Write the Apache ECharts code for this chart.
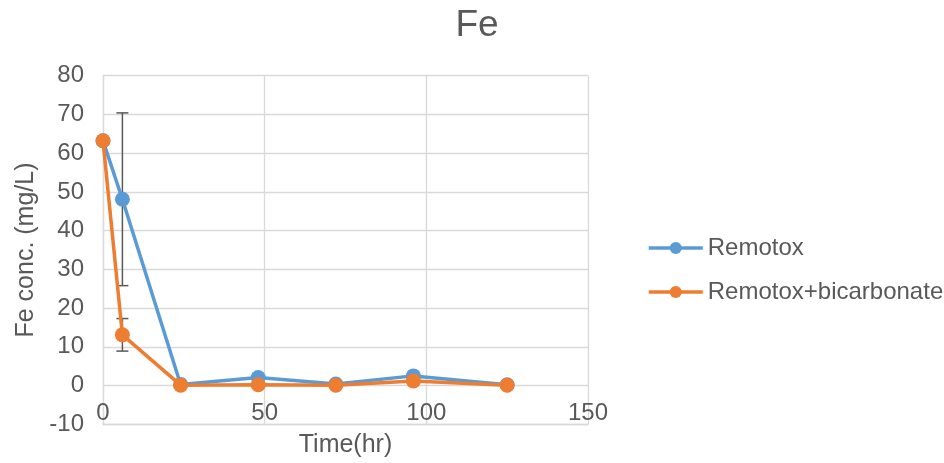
<!DOCTYPE html>
<html>
<head>
<meta charset="utf-8">
<script src="https://cdn.jsdelivr.net/npm/echarts@6/dist/echarts.min.js"></script>
<style>html,body{margin:0;padding:0;background:#fff;}#c{width:944px;height:463px;}</style>
</head>
<body>
<div id="c"></div>
<script>
const time = [0, 6, 24, 48, 72, 96, 125];
const remotox = [63.2, 48.1, 0.3, 2.1, 0.4, 2.5, 0.2];
const remotoxBicarb = [63.2, 13.1, 0.1, 0.2, 0.1, 1.2, 0.1];
const remotoxErr = [0, 22.3, 0, 0, 0, 0, 0];
const remotoxBicarbErr = [0, 4.2, 0, 0, 0, 0, 0];
const seriesNames = ['Remotox', 'Remotox+bicarbonate'];
const colors = ['#5B9BD5', '#ED7D31'];
const xTicks = { min: 0, max: 150, interval: 50 };
const yTicks = { min: -10, max: 80, interval: 10 };

const FONT = '"Liberation Sans", Arial, sans-serif';
const TXT = '#595959';
const GRID = '#d9d9d9';

function pairs(xs, ys) { return xs.map((x, i) => [x, ys[i]]); }
function errData(xs, ys, es) {
  const out = [];
  xs.forEach((x, i) => { if (es[i] > 0) out.push([x, ys[i] - es[i], ys[i] + es[i]]); });
  return out;
}
function errRender(params, api) {
  const x = api.value(0), lo = api.value(1), hi = api.value(2);
  const pLo = api.coord([x, lo]);
  const pHi = api.coord([x, hi]);
  const cap = 6;
  const style = { stroke: TXT, lineWidth: 1.5 };
  return {
    type: 'group',
    children: [
      { type: 'line', shape: { x1: pLo[0], y1: pLo[1], x2: pHi[0], y2: pHi[1] }, style },
      { type: 'line', shape: { x1: pHi[0] - cap, y1: pHi[1], x2: pHi[0] + cap, y2: pHi[1] }, style },
      { type: 'line', shape: { x1: pLo[0] - cap, y1: pLo[1], x2: pLo[0] + cap, y2: pLo[1] }, style }
    ]
  };
}

const chart = echarts.init(document.getElementById('c'), null, { renderer: 'canvas' });
chart.setOption({
  animation: false,
  backgroundColor: '#fff',
  textStyle: { fontFamily: FONT },
  title: {
    text: 'Fe', left: 472, top: 2, textAlign: 'center',
    textStyle: { fontFamily: FONT, fontSize: 37, fontWeight: 'normal', color: TXT }
  },
  legend: {
    data: seriesNames, orient: 'vertical', left: 647, top: 236, padding: 0,
    itemWidth: 54, itemHeight: 15, itemGap: 20,
    lineStyle: { width: 3.5 },
    textStyle: { fontFamily: FONT, fontSize: 24, color: TXT }
  },
  grid: { left: 103, right: 356, top: 75.7, bottom: 38.7, containLabel: false, outerBoundsMode: 'none' },
  xAxis: {
    type: 'value', min: xTicks.min, max: xTicks.max, interval: xTicks.interval,
    name: 'Time(hr)', nameLocation: 'middle', nameGap: 8,
    nameTextStyle: { fontFamily: FONT, fontSize: 25, color: TXT },
    axisLine: { show: true, onZero: false, lineStyle: { color: GRID, width: 1.3 } },
    axisTick: { show: false },
    axisLabel: { fontFamily: FONT, fontSize: 24, color: TXT, margin: -23 },
    splitLine: { show: true, lineStyle: { color: GRID, width: 1.3 } }
  },
  yAxis: {
    type: 'value', min: yTicks.min, max: yTicks.max, interval: yTicks.interval,
    name: 'Fe conc. (mg/L)', nameLocation: 'middle', nameGap: 60,
    nameTextStyle: { fontFamily: FONT, fontSize: 25, color: TXT },
    axisLine: { show: true, onZero: false, lineStyle: { color: GRID, width: 1.3 } },
    axisTick: { show: false },
    axisLabel: { fontFamily: FONT, fontSize: 24, color: TXT, margin: 19 },
    splitLine: { show: true, lineStyle: { color: GRID, width: 1.3 } }
  },
  series: [
    {
      type: 'custom', name: 'err1', renderItem: errRender, z: 1, silent: true,
      data: errData(time, remotox, remotoxErr), encode: { x: 0, y: [1, 2] }
    },
    {
      type: 'custom', name: 'err2', renderItem: errRender, z: 1, silent: true,
      data: errData(time, remotoxBicarb, remotoxBicarbErr), encode: { x: 0, y: [1, 2] }
    },
    {
      type: 'line', name: seriesNames[0], data: pairs(time, remotox), z: 3,
      color: colors[0], symbol: 'circle', symbolSize: 15,
      lineStyle: { width: 3.5, color: colors[0] }, itemStyle: { color: colors[0] }
    },
    {
      type: 'line', name: seriesNames[1], data: pairs(time, remotoxBicarb), z: 4,
      color: colors[1], symbol: 'circle', symbolSize: 15,
      lineStyle: { width: 3.5, color: colors[1] }, itemStyle: { color: colors[1] }
    }
  ]
});
</script>
</body>
</html>
